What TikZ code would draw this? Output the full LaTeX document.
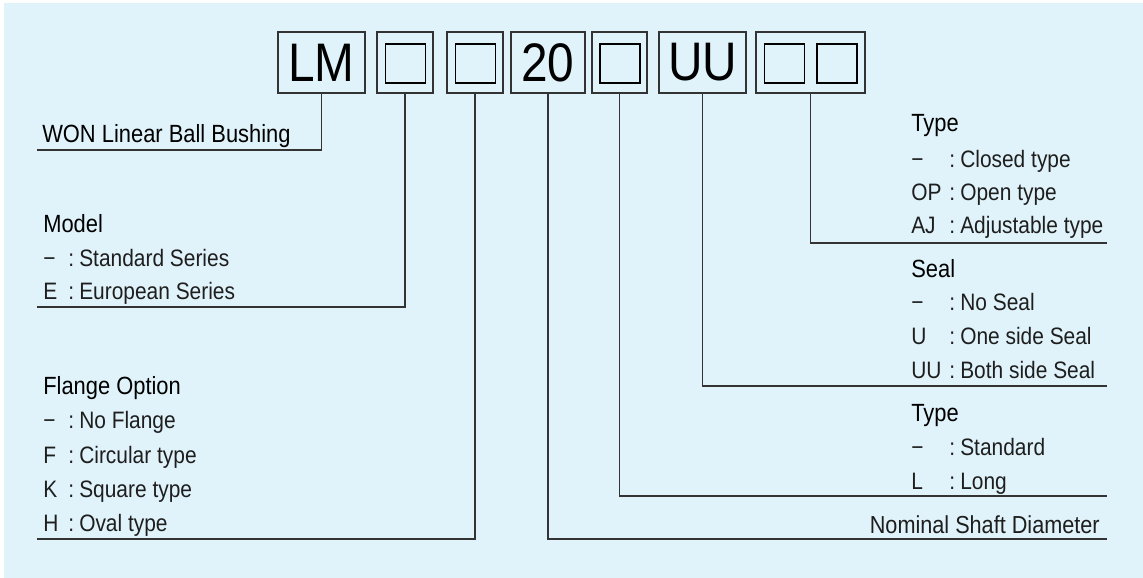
\documentclass[tikz,border=0pt]{standalone}
\usepackage{fontspec}
\setmainfont[FakeStretch=0.88]{Liberation Sans}
\definecolor{bgblue}{HTML}{E0F3FA}
\definecolor{linegray}{HTML}{333333}
\definecolor{itemgray}{HTML}{1E1E1E}
\newlength{\pxu}
\setlength{\pxu}{0.025cm}
\newcommand{\optline}[3]{\makebox[#1][l]{#2}\makebox[11\pxu][l]{:}#3}

\begin{document}
\begin{tikzpicture}[x=0.025cm, y=-0.025cm,
  codebox/.style={draw=linegray, line width=0.9pt, minimum height=61\pxu, inner sep=0pt, font=\fontsize{38.6}{38}\selectfont},
  blank/.style={draw=black, line width=1.1pt, minimum width=40\pxu, minimum height=39\pxu, inner sep=0pt},
  lead/.style={draw=linegray, line width=0.9pt},
  head/.style={anchor=base west, inner sep=0pt, font=\fontsize{17.7}{20}\selectfont},
  opt/.style={anchor=base west, inner sep=0pt, text=itemgray, font=\fontsize{16.9}{20}\selectfont}]

\useasboundingbox (0,0) rectangle (1143,578);
\fill[bgblue] (4,3) rectangle (1143,578);

% code boxes
\node[codebox, minimum width=87\pxu] (lm) at (321.5,62.5) {LM};
\node[codebox, minimum width=56\pxu] (b1) at (405,62.5) {};
\node[codebox, minimum width=56\pxu] (b2) at (475,62.5) {};
\node[codebox, minimum width=74\pxu] (d20) at (548,62.5) {20};
\node[codebox, minimum width=55\pxu] (b3) at (619.5,62.5) {};
\node[codebox, minimum width=87\pxu] (uu) at (702.5,62.5) {UU};
\node[codebox, minimum width=109\pxu] (b4) at (810.5,62.5) {};
\node[blank] (b1in) at (405.5,63.5) {};
\node[blank] (b2in) at (475.5,63.5) {};
\node[blank] (b3in) at (620,63.5) {};
\node[blank] (b4ina) at (784.5,63.5) {};
\node[blank] (b4inb) at (837,63.5) {};

% leaders
\coordinate (wonend) at (37,150);
\coordinate (modelend) at (37,307);
\coordinate (flangeend) at (37,539);
\coordinate (diaend) at (1107,539);
\coordinate (lenend) at (1107,496);
\coordinate (sealend) at (1107,386);
\coordinate (coverend) at (1107,243);
\draw[lead] (lm.south) |- (wonend);
\draw[lead] (b1.south) |- (modelend);
\draw[lead] (b2.south) |- (flangeend);
\draw[lead] (d20.south) |- (diaend);
\draw[lead] (b3.south) |- (lenend);
\draw[lead] (uu.south) |- (sealend);
\draw[lead] (b4.south) |- (coverend);

% left texts
\node[head] (won) at (42,142) {WON Linear Ball Bushing};
\node[head] (model) at (43,232) {Model};
\node[opt] (model1) at (43,266) {\optline{25\pxu}{−}{Standard Series}};
\node[opt] (model2) at (43,299) {\optline{25\pxu}{E}{European Series}};
\node[head] (flange) at (43,394) {Flange Option};
\node[opt] (flange1) at (43,428) {\optline{25\pxu}{−}{No Flange}};
\node[opt] (flange2) at (43,463) {\optline{25\pxu}{F}{Circular type}};
\node[opt] (flange3) at (43,497) {\optline{25\pxu}{K}{Square type}};
\node[opt] (flange4) at (43,531) {\optline{25\pxu}{H}{Oval type}};

% right texts
\node[head] (cover) at (911,132) {Type};
\node[opt] (cover1) at (911,167) {\optline{38\pxu}{−}{Closed type}};
\node[opt] (cover2) at (911,200) {\optline{38\pxu}{OP}{Open type}};
\node[opt] (cover3) at (911,233) {\optline{38\pxu}{AJ}{Adjustable type}};
\node[head] (seal) at (911,277) {Seal};
\node[opt] (seal1) at (911,310) {\optline{38\pxu}{−}{No Seal}};
\node[opt] (seal2) at (911,344) {\optline{38\pxu}{U}{One side Seal}};
\node[opt] (seal3) at (911,378) {\optline{38\pxu}{UU}{Both side Seal}};
\node[head] (len) at (911,421) {Type};
\node[opt] (len1) at (911,455) {\optline{38\pxu}{−}{Standard}};
\node[opt] (len2) at (911,489) {\optline{38\pxu}{L}{Long}};
\node[opt, anchor=base east, font=\fontsize{17.5}{20}\selectfont] (dia) at (1100,533) {Nominal Shaft Diameter};
\end{tikzpicture}
\end{document}
